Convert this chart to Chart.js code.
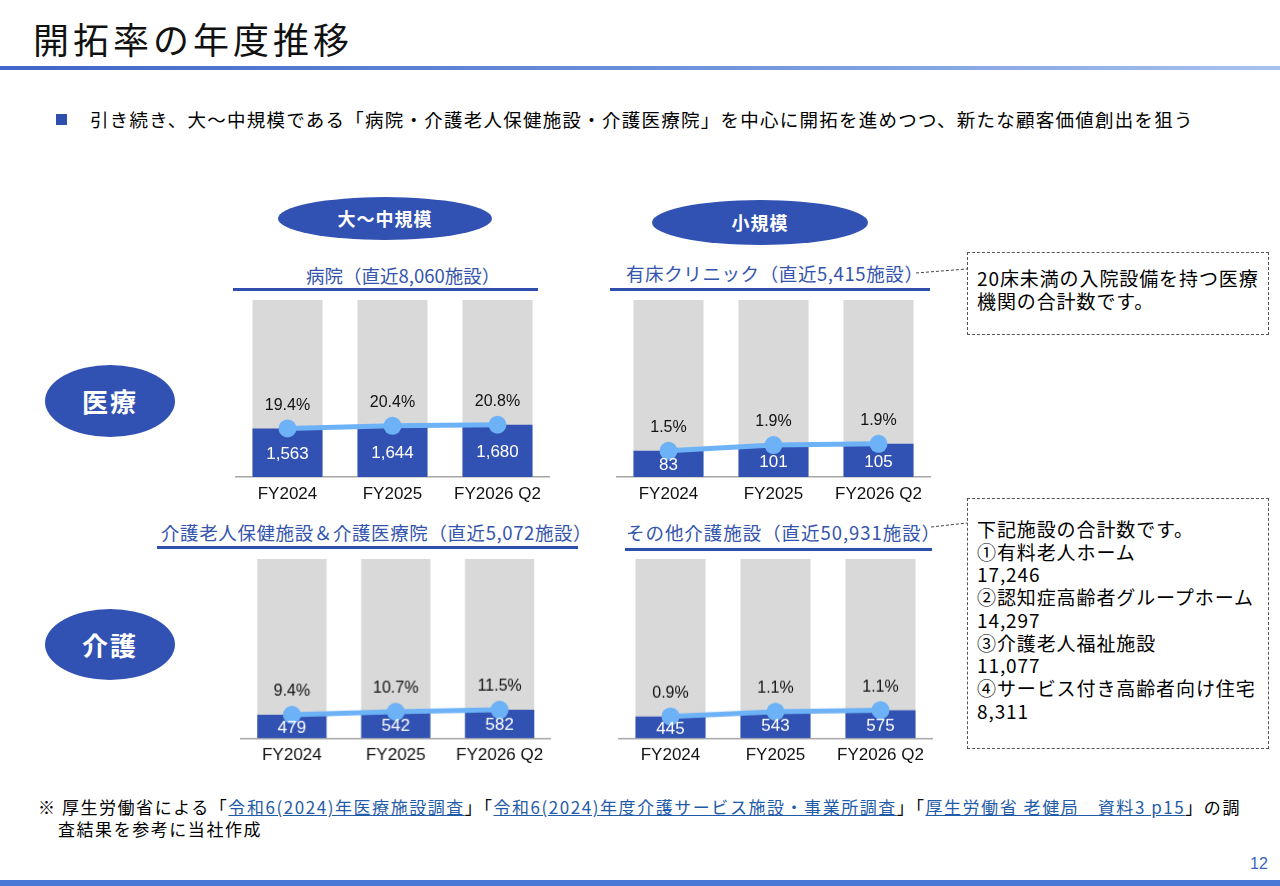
<!DOCTYPE html>
<html lang="ja">
<head>
<meta charset="utf-8">
<script src="https://cdn.jsdelivr.net/npm/chart.js@4.4.1/dist/chart.umd.min.js"></script>
<style>
  html, body { margin:0; padding:0; background:#fff; }
  body { width:1280px; height:886px; position:relative; overflow:hidden; font-family:"Noto Sans CJK JP","Noto Sans",sans-serif; color:#000; }
  .abs { position:absolute; white-space:nowrap; }
  .title { left:33px; top:14px; font-size:36px; letter-spacing:4px; line-height:48px; color:#111; }
  .topline { left:0; top:66px; width:1280px; height:4px; background:linear-gradient(90deg,#3f66c8,#6f93dc 55%,#a8c2ee); }
  .bullet-sq { left:56px; top:114px; width:11px; height:11px; background:#2f4fae; }
  .bullet { left:90px; top:106px; font-size:18.5px; letter-spacing:1.25px; line-height:26px; }
  .pill { background:#3152b2; color:#fff; border-radius:50%; text-align:center; font-weight:700; }
  .ctitle { font-size:18.5px; color:#3454ad; line-height:26px; }
  .uline { height:3px; background:#2f4fae; }
  .note { border:1px dashed #555; background:#fff; font-size:19px; line-height:22.7px; padding:0 0 0 9px; box-sizing:border-box; letter-spacing:0.9px; }
  .foot { left:38px; top:796px; font-size:17px; line-height:22px; letter-spacing:1.55px; }
  .foot a { color:#1f5ba8; text-decoration:underline; }
  .bottomline { left:0; top:880px; width:1280px; height:6px; background:#4a78d6; }
  .pagenum { left:1250px; top:855px; font-size:16px; color:#3b63c0; font-family:"Liberation Sans",Arial,sans-serif; }
  .chartbox { position:absolute; }
</style>
</head>
<body>
<script>
// ---- data ----
const categories = ['FY2024', 'FY2025', 'FY2026 Q2'];

const hospitalCounts = [1563, 1644, 1680];
const hospitalRates  = [19.4, 20.4, 20.8];

const clinicCounts = [83, 101, 105];
const clinicRates  = [1.5, 1.9, 1.9];

const rokenCounts = [479, 542, 582];
const rokenRates  = [9.4, 10.7, 11.5];

const otherCareCounts = [445, 543, 575];
const otherCareRates  = [0.9, 1.1, 1.1];

// visual scale ceilings (the grey track = full height)
const hospitalScaleMax  = 5690;
const clinicScaleMax    = 560;
const rokenScaleMax     = 3650;
const otherCareScaleMax = 3650;
</script>

<div class="abs title">開拓率の年度推移</div>
<div class="abs topline"></div>
<div class="abs bullet-sq"></div>
<div class="abs bullet">引き続き、大～中規模である「病院・介護老人保健施設・介護医療院」を中心に開拓を進めつつ、新たな顧客価値創出を狙う</div>

<div class="abs pill" style="left:278px;top:197px;width:214px;height:43px;line-height:43px;font-size:18px;letter-spacing:1px;">大～中規模</div>
<div class="abs pill" style="left:652px;top:200px;width:216px;height:45px;line-height:45px;font-size:18px;letter-spacing:1px;">小規模</div>
<div class="abs pill" style="left:45px;top:365px;width:130px;height:72px;line-height:72px;font-size:26px;letter-spacing:2px;">医療</div>
<div class="abs pill" style="left:45px;top:609px;width:130px;height:71px;line-height:71px;font-size:26px;letter-spacing:2px;">介護</div>

<div class="abs ctitle" style="left:306px;top:262px;">病院（直近8,060施設）</div>
<div class="abs uline" style="left:233px;top:288px;width:305px;"></div>
<div class="abs ctitle" style="left:626px;top:260px;letter-spacing:0.6px;">有床クリニック（直近5,415施設）</div>
<div class="abs uline" style="left:610px;top:288px;width:320px;"></div>
<div class="abs ctitle" style="left:161px;top:519px;letter-spacing:0.6px;">介護老人保健施設＆介護医療院（直近5,072施設）</div>
<div class="abs uline" style="left:157px;top:546px;width:421px;"></div>
<div class="abs ctitle" style="left:626px;top:519px;letter-spacing:0.95px;">その他介護施設（直近50,931施設）</div>
<div class="abs uline" style="left:625px;top:548px;width:307px;"></div>

<svg class="abs" style="left:0;top:0;" width="1280" height="886">
  <line x1="916" y1="273" x2="967" y2="269" stroke="#444" stroke-width="1" stroke-dasharray="3,2"/>
  <line x1="931" y1="527" x2="967" y2="523" stroke="#444" stroke-width="1" stroke-dasharray="3,2"/>
</svg>

<div class="abs note" style="left:967px;top:252px;width:302px;height:83px;padding-top:14px;">20床未満の入院設備を持つ医療<br>機関の合計数です。</div>
<div class="abs note" style="left:967px;top:498px;width:302px;height:251px;padding-top:19px;">下記施設の合計数です。<br>①有料老人ホーム<br>17,246<br>②認知症高齢者グループホーム<br>14,297<br>③介護老人福祉施設<br>11,077<br>④サービス付き高齢者向け住宅<br>8,311</div>

<div class="abs foot">※ 厚生労働省による「<a>令和6(2024)年医療施設調査</a>」「<a>令和6(2024)年度介護サービス施設・事業所調査</a>」「<a>厚生労働省 老健局　資料3 p15</a>」の調<br><span style="padding-left:20px;">査結果を参考に当社作成</span></div>
<div class="abs pagenum">12</div>
<div class="abs bottomline"></div>

<div class="chartbox" style="left:235px;top:300px;width:315px;height:207px;"><canvas id="c1"></canvas></div>
<div class="chartbox" style="left:615.5px;top:300px;width:315px;height:207px;"><canvas id="c2"></canvas></div>
<div class="chartbox" style="left:240px;top:559px;width:310.5px;height:208.5px;"><canvas id="c3"></canvas></div>
<div class="chartbox" style="left:617.5px;top:559px;width:315px;height:208.5px;"><canvas id="c4"></canvas></div>

<script>
const GREY = '#d9d9d9';
const BLUE = '#3152b2';
const LINE = '#6db2f6';

const labelPlugin = {
  id: 'barLabels',
  afterDatasetsDraw(chart) {
    const ctx = chart.ctx;
    const lineMeta = chart.getDatasetMeta(0);
    const barMeta = chart.getDatasetMeta(1);
    const rates = chart.options.plugins.barLabels.rates;
    const counts = chart.data.datasets[1].data;
    ctx.save();
    ctx.textAlign = 'center';
    ctx.textBaseline = 'middle';
    barMeta.data.forEach((bar, i) => {
      const pt = lineMeta.data[i];
      ctx.fillStyle = '#111';
      ctx.font = '16px "Liberation Sans", Arial, sans-serif';
      ctx.fillText(rates[i].toFixed(1) + '%', pt.x, pt.y - 23);
      ctx.fillStyle = '#fff';
      ctx.font = '17px "Liberation Sans", Arial, sans-serif';
      ctx.fillText(counts[i].toLocaleString('en-US'), bar.x, (bar.y + bar.base) / 2 + 1.5);
    });
    ctx.restore();
  }
};

function makeChart(id, counts, rates, scaleMax) {
  return new Chart(document.getElementById(id), {
    type: 'bar',
    data: {
      labels: categories,
      datasets: [
        {
          type: 'line', data: counts, borderColor: LINE, backgroundColor: LINE,
          borderWidth: 5, pointRadius: 9, pointHoverRadius: 9,
          pointBackgroundColor: LINE, pointBorderWidth: 0, tension: 0, order: 0, clip: false
        },
        {
          type: 'bar', data: counts, backgroundColor: BLUE, grouped: false,
          barPercentage: 1, categoryPercentage: 0.667, order: 1
        },
        {
          type: 'bar', data: categories.map(() => scaleMax), backgroundColor: GREY, grouped: false,
          barPercentage: 1, categoryPercentage: 0.667, order: 2
        }
      ]
    },
    options: {
      responsive: true, maintainAspectRatio: false, animation: false,
      layout: { padding: 0, autoPadding: false },
      plugins: { legend: { display: false }, tooltip: { enabled: false }, barLabels: { rates } },
      scales: {
        y: { display: false, min: 0, max: scaleMax },
        x: {
          grid: { display: false, drawTicks: false },
          border: { display: true, color: '#a6a6a6', width: 1.5 },
          ticks: { color: '#111', padding: 7, font: { size: 17, family: '"Liberation Sans", Arial, sans-serif' }, maxRotation: 0 },
          afterFit(scale) { scale.height = 30; }
        }
      }
    },
    plugins: [labelPlugin]
  });
}

makeChart('c1', hospitalCounts, hospitalRates, hospitalScaleMax);
makeChart('c2', clinicCounts, clinicRates, clinicScaleMax);
makeChart('c3', rokenCounts, rokenRates, rokenScaleMax);
makeChart('c4', otherCareCounts, otherCareRates, otherCareScaleMax);
</script>
</body>
</html>
